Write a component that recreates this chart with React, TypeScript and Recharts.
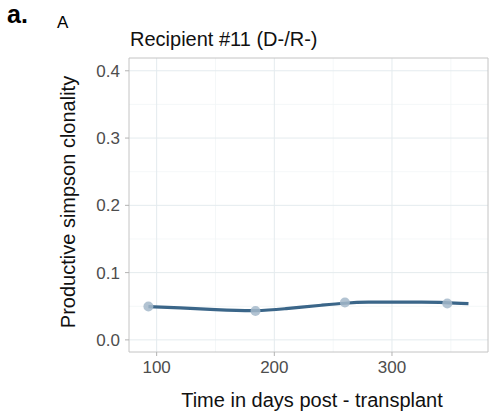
import {
  ComposedChart,
  Line,
  Scatter,
  XAxis,
  YAxis,
  CartesianGrid,
  ReferenceArea,
} from 'recharts';

// observed samples
const DAYS = [93, 184, 260, 347];
const CLONALITY = [0.0495, 0.043, 0.0555, 0.054];

// smoothed fit
const FIT_DAYS = [93, 120, 150, 184, 210, 240, 260, 280, 300, 325, 345, 365];
const FIT_VALUES = [0.0495, 0.0475, 0.045, 0.0435, 0.0465, 0.0515, 0.0545, 0.056, 0.056, 0.056, 0.0555, 0.054];

const X_TICKS = [100, 200, 300];
const X_MINOR = [150, 250, 350];
const Y_TICKS = [0, 0.1, 0.2, 0.3, 0.4];
const Y_MINOR = [0.05, 0.15, 0.25, 0.35];
const X_DOMAIN: [number, number] = [76.5, 381.6];
const Y_DOMAIN: [number, number] = [-0.018, 0.419];

const FONT = '"Liberation Sans", Arial, sans-serif';
const TICK = { fontSize: 17, fill: '#4d4d4d', fontFamily: FONT };

const points = DAYS.map((d, i) => ({ day: d, value: CLONALITY[i] }));
const fit = FIT_DAYS.map((d, i) => ({ day: d, value: FIT_VALUES[i] }));

export default function App() {
  return (
    <div style={{ position: 'absolute', left: 0, top: 0, width: 490, height: 419, background: '#fff', fontFamily: FONT }}>
      <div style={{ position: 'absolute', left: 7, top: 0, fontSize: 25, fontWeight: 'bold', color: '#000' }}>a.</div>
      <div style={{ position: 'absolute', left: 57, top: 13, fontSize: 17, color: '#000' }}>A</div>
      <div style={{ position: 'absolute', left: 130, top: 28, fontSize: 20, color: '#111' }}>Recipient #11 (D-/R-)</div>
      <div
        style={{
          position: 'absolute',
          left: 68,
          top: 202,
          fontSize: 20,
          color: '#111',
          whiteSpace: 'nowrap',
          transform: 'translate(-50%, -50%) rotate(-90deg)',
        }}
      >
        Productive simpson clonality
      </div>
      <div
        style={{
          position: 'absolute',
          left: 312,
          top: 400,
          fontSize: 20,
          color: '#111',
          whiteSpace: 'nowrap',
          transform: 'translate(-50%, -50%)',
        }}
      >
        Time in days post - transplant
      </div>
      <ComposedChart
        width={490}
        height={419}
        margin={{ top: 58, right: 2, bottom: 0, left: 0 }}
        style={{ position: 'absolute', left: 0, top: 0 }}
      >
        <CartesianGrid
          stroke="#f1f5f6"
          strokeWidth={0.8}
          verticalValues={X_MINOR}
          horizontalValues={Y_MINOR}
        />
        <CartesianGrid
          stroke="#e4ebee"
          strokeWidth={1}
          verticalValues={X_TICKS}
          horizontalValues={Y_TICKS}
        />
        <XAxis
          type="number"
          dataKey="day"
          domain={X_DOMAIN}
          ticks={X_TICKS}
          allowDataOverflow
          height={67}
          tick={TICK}
          tickSize={4}
          tickMargin={5}
          axisLine={false}
          tickLine={{ stroke: '#b3b3b3' }}
        />
        <YAxis
          type="number"
          dataKey="value"
          domain={Y_DOMAIN}
          ticks={Y_TICKS}
          allowDataOverflow
          width={129}
          tick={TICK}
          tickSize={4}
          tickMargin={5}
          tickFormatter={(v: number) => v.toFixed(1)}
          axisLine={false}
          tickLine={{ stroke: '#b3b3b3' }}
        />
        <ReferenceArea
          x1={X_DOMAIN[0]}
          x2={X_DOMAIN[1]}
          y1={Y_DOMAIN[0]}
          y2={Y_DOMAIN[1]}
          fill="none"
          stroke="#c4c4c4"
          strokeWidth={1}
          ifOverflow="visible"
        />
        <Scatter
          data={points}
          dataKey="value"
          fill="#a5b8ca"
          shape={(p: any) => <circle cx={p.cx} cy={p.cy} r={5} fill="#a5b8ca" fillOpacity={0.85} />}
          isAnimationActive={false}
        />
        <Line
          data={fit}
          dataKey="value"
          type="natural"
          stroke="#3b6689"
          strokeWidth={3.2}
          dot={false}
          activeDot={false}
          isAnimationActive={false}
        />
      </ComposedChart>
    </div>
  );
}
